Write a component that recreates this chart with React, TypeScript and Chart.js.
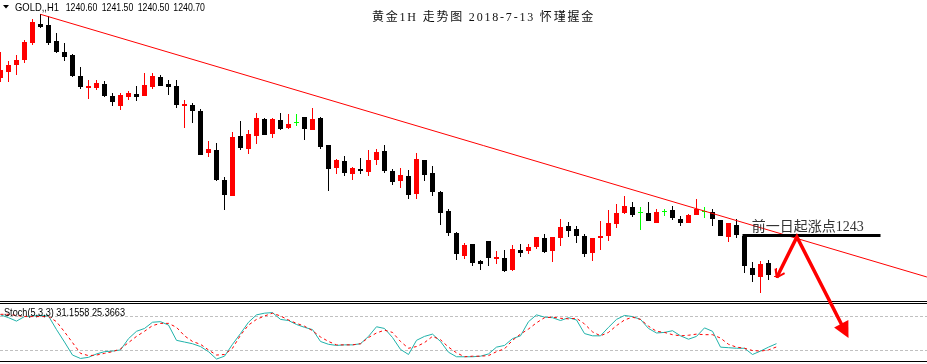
import React, { useEffect, useRef } from 'react';
import { Chart, registerables } from 'chart.js';
Chart.register(...registerables);

// ---- Candles (H1 gold), index 0..97 ----
const opens = [
  1260.5, 1261.1, 1261.8, 1262.3, 1264.0, 1265.9, 1265.8, 1264.2, 1263.1, 1262.8,
  1260.7, 1259.5, 1259.5, 1259.9, 1258.7, 1257.7, 1258.6, 1258.9, 1258.7, 1259.6,
  1260.6, 1259.9, 1259.7, 1257.7, 1257.8, 1257.2, 1253.0, 1253.3, 1250.3, 1248.7,
  1254.7, 1253.4, 1254.7, 1256.4, 1254.9, 1256.3, 1255.5, 1256.0, 1256.6, 1255.3,
  1256.5, 1253.8, 1251.5, 1252.2, 1250.9, 1251.4, 1251.1, 1252.3, 1253.2, 1251.2,
  1250.2, 1250.7, 1248.9, 1252.3, 1251.0, 1249.1, 1247.2, 1245.0, 1242.7, 1243.9,
  1242.2, 1244.2, 1242.4, 1242.5, 1241.3, 1243.3, 1243.2, 1243.6, 1244.5, 1243.2,
  1244.5, 1245.7, 1245.4, 1244.7, 1243.0, 1244.5, 1244.7, 1245.9, 1247.0, 1247.6,
  1247.0, 1247.0, 1246.0, 1247.1, 1247.3, 1246.4, 1246.0, 1246.8, 1247.1, 1247.1,
  1246.3, 1244.6, 1245.8, 1244.7, 1241.5, 1240.6, 1242.0, 1240.6,
];
const highs = [
  1263.1, 1262.2, 1262.8, 1264.3, 1266.4, 1266.9, 1266.7, 1265.0, 1264.0, 1262.9,
  1261.6, 1260.3, 1260.3, 1260.2, 1259.0, 1259.0, 1259.2, 1259.7, 1261.0, 1261.0,
  1260.8, 1260.3, 1260.3, 1258.3, 1258.0, 1257.4, 1254.2, 1254.0, 1250.6, 1255.1,
  1256.2, 1255.3, 1257.0, 1256.5, 1256.5, 1257.0, 1256.9, 1256.9, 1256.6, 1257.5,
  1256.6, 1253.8, 1252.4, 1252.7, 1251.6, 1252.5, 1253.3, 1253.4, 1253.8, 1251.4,
  1251.5, 1251.3, 1253.0, 1252.3, 1251.7, 1249.2, 1247.4, 1245.1, 1244.0, 1243.9,
  1242.3, 1244.2, 1243.2, 1243.3, 1243.8, 1243.9, 1243.9, 1244.6, 1244.9, 1244.6,
  1246.4, 1246.1, 1245.7, 1244.9, 1244.5, 1246.2, 1247.3, 1247.9, 1248.7, 1248.1,
  1247.6, 1248.1, 1247.4, 1247.4, 1247.7, 1246.7, 1246.9, 1248.4, 1247.6, 1247.4,
  1246.3, 1246.0, 1246.4, 1244.9, 1242.1, 1242.2, 1242.3, 1241.5,
];
const lows = [
  1260.1, 1260.1, 1260.8, 1262.0, 1263.8, 1265.5, 1263.8, 1263.0, 1262.2, 1260.6,
  1259.4, 1258.4, 1259.3, 1258.6, 1257.7, 1257.3, 1258.3, 1258.2, 1258.7, 1259.4,
  1259.7, 1258.8, 1257.5, 1255.5, 1256.0, 1252.8, 1252.6, 1250.2, 1247.3, 1248.7,
  1253.3, 1252.9, 1253.9, 1254.8, 1254.5, 1255.3, 1255.4, 1255.7, 1254.3, 1255.3,
  1253.4, 1249.2, 1250.9, 1250.7, 1250.3, 1250.9, 1250.7, 1251.8, 1251.0, 1249.8,
  1249.5, 1248.4, 1248.4, 1250.2, 1248.7, 1245.8, 1244.7, 1242.3, 1242.4, 1241.7,
  1241.3, 1241.7, 1241.9, 1241.1, 1241.2, 1242.6, 1242.9, 1243.4, 1243.0, 1242.1,
  1243.7, 1244.6, 1244.0, 1242.6, 1242.2, 1243.3, 1244.2, 1245.5, 1246.9, 1246.6,
  1245.3, 1246.2, 1246.0, 1246.7, 1246.3, 1245.7, 1246.0, 1246.8, 1246.5, 1245.7,
  1244.7, 1244.1, 1244.5, 1241.0, 1240.1, 1239.0, 1240.3, 1240.5,
];
const closes = [
  1261.3, 1261.8, 1262.3, 1264.1, 1266.1, 1265.6, 1264.0, 1263.1, 1262.6, 1260.7,
  1259.6, 1259.7, 1260.0, 1258.7, 1258.1, 1258.8, 1259.0, 1258.6, 1259.8, 1260.7,
  1259.7, 1259.6, 1257.8, 1257.9, 1257.2, 1252.8, 1253.4, 1250.3, 1248.8, 1254.6,
  1253.5, 1254.9, 1256.5, 1254.8, 1256.4, 1255.4, 1255.9, 1256.0, 1255.4, 1256.4,
  1253.6, 1251.4, 1252.3, 1251.0, 1251.5, 1251.2, 1252.3, 1253.1, 1251.2, 1250.1,
  1250.8, 1248.8, 1252.4, 1250.8, 1249.1, 1247.0, 1245.0, 1242.9, 1243.8, 1242.0,
  1241.9, 1242.5, 1242.6, 1241.2, 1243.4, 1243.0, 1243.6, 1244.6, 1243.1, 1244.6,
  1245.6, 1245.2, 1244.7, 1242.9, 1244.5, 1244.7, 1246.0, 1247.0, 1247.7, 1246.8,
  1247.0, 1246.2, 1247.1, 1247.1, 1246.5, 1246.0, 1246.8, 1247.4, 1247.1, 1246.4,
  1244.7, 1246.0, 1244.8, 1241.7, 1240.8, 1241.9, 1240.8, 1240.7,
];

// ---- Stochastic (5,3,3) ----
const stochMain = [
  82, 77, 71, 79, 80, 81, 80, 56, 34, 11,
  5, 7, 13, 17, 18, 20, 40, 53, 58, 69,
  70, 64, 37, 34, 31, 26, 17, 4, 9, 30,
  49, 69, 82, 85, 86, 74, 72, 65, 60, 56,
  35, 30, 28, 29, 29, 31, 44, 61, 58, 42,
  21, 12, 37, 44, 48, 35, 16, 8, 8, 8,
  9, 13, 25, 28, 40, 45, 70, 82, 78, 77,
  72, 77, 73, 49, 45, 45, 60, 74, 81, 79,
  74, 58, 50, 51, 54, 45, 39, 44, 59, 53,
  25, 24, 23, 23, 12, 18, 25, 31.16,
];
const stochSignal = [
  83, 83, 81, 79, 79, 79, 79, 70, 52, 33,
  14, 10, 11, 14, 17, 22, 33, 44, 53, 63,
  67, 67, 60, 45, 35, 30, 20, 11, 12, 23,
  46, 64, 74, 80, 85, 80, 73, 67, 62, 54,
  43, 35, 29, 29, 29, 31, 42, 50, 55, 51,
  35, 23, 26, 33, 44, 38, 25, 15, 8, 9,
  9, 10, 17, 22, 37, 48, 57, 68, 77, 78,
  76, 75, 76, 66, 52, 45, 51, 63, 73, 78,
  74, 62, 53, 51, 47, 45, 46, 48, 47, 47,
  41, 30, 25, 23, 19, 18, 20, 25.37,
];
const stochLevels = [20, 80];

// ---- Drawings ----
const trendX = [5, 115.8];
const trendY = [1266.87, 1240.6];
const prevLevelX = [92.75, 110];
const prevLevel = 1244.75;
const arrowX = [97.03, 99.55, 106.0];
const arrowY = [1240.55, 1244.6, 1234.5];

// ---- Texts ----
const headerSymbol = 'GOLD,,H1';
const headerValues = ['1240.60', '1241.50', '1240.50', '1240.70'];
const titleText = '黄金1H 走势图 2018-7-13 怀瑾握金';
const levelLabel = '前一日起涨点1243';
const stochLabel = 'Stoch(5,3,3) 31.1558 25.3663';

const RED = '#ff0000';
const BLACK = '#000000';
const GREEN = '#00ff00';

function candleColor(i: number) {
  if (closes[i] > opens[i]) return RED;
  if (closes[i] < opens[i]) return BLACK;
  return GREEN;
}

const decorPlugin = {
  id: 'decor',
  beforeDatasetsDraw(chart: any) {
    const ctx = chart.ctx;
    const y2 = chart.scales.y2;
    const W = chart.width;
    ctx.save();
    ctx.strokeStyle = '#c0c0c0';
    ctx.lineWidth = 1;
    ctx.setLineDash([3, 2]);
    stochLevels.forEach((v) => {
      const py = Math.round(y2.getPixelForValue(v)) + 0.5;
      ctx.beginPath();
      ctx.moveTo(0, py);
      ctx.lineTo(W, py);
      ctx.stroke();
    });
    ctx.setLineDash([]);
    const pTop = Math.round(y2.getPixelForValue(100));
    const pBot = Math.floor(y2.getPixelForValue(0));
    ctx.fillStyle = '#000';
    ctx.fillRect(0, pTop - 4, W, 1);
    ctx.fillRect(0, pTop - 2, W, 1);
    ctx.fillRect(0, pBot, W, 1);
    ctx.restore();
  },
  afterDatasetsDraw(chart: any) {
    const ctx = chart.ctx;
    const xs = chart.scales.x;
    const ys = chart.scales.y;
    const pts = arrowX.map((v, i) => ({ x: xs.getPixelForValue(v), y: ys.getPixelForValue(arrowY[i]) }));
    ctx.save();
    ctx.strokeStyle = RED;
    ctx.fillStyle = RED;
    const a = pts[1], b = pts[2];
    let dx = b.x - a.x, dy = b.y - a.y;
    const len = Math.hypot(dx, dy);
    dx /= len; dy /= len;
    const headL = 16, headW = 8;
    const base = { x: b.x - dx * headL, y: b.y - dy * headL };
    ctx.lineWidth = 3.5;
    ctx.lineJoin = 'miter';
    ctx.beginPath();
    ctx.moveTo(pts[0].x, pts[0].y);
    ctx.lineTo(a.x, a.y);
    ctx.lineTo(base.x + dx * 2, base.y + dy * 2);
    ctx.stroke();
    ctx.beginPath();
    ctx.moveTo(b.x, b.y);
    ctx.lineTo(base.x - dy * headW, base.y + dx * headW);
    ctx.lineTo(base.x + dy * headW, base.y - dx * headW);
    ctx.closePath();
    ctx.fill();
    let rx = a.x - pts[0].x, ry = a.y - pts[0].y;
    const rl = Math.hypot(rx, ry);
    rx /= rl; ry /= rl;
    ctx.lineWidth = 2;
    [-0.6, 0.6].forEach((ang) => {
      const c = Math.cos(ang), s = Math.sin(ang);
      const bx = rx * c - ry * s, by = rx * s + ry * c;
      ctx.beginPath();
      ctx.moveTo(pts[0].x, pts[0].y);
      ctx.lineTo(pts[0].x + bx * 9, pts[0].y + by * 9);
      ctx.stroke();
    });
    ctx.restore();
  },
  afterDraw(chart: any) {
    const ctx = chart.ctx;
    ctx.save();
    ctx.textBaseline = 'alphabetic';
    ctx.textAlign = 'left';
    ctx.fillStyle = '#000';
    ctx.beginPath();
    ctx.moveTo(3, 5);
    ctx.lineTo(9, 5);
    ctx.lineTo(6, 8.5);
    ctx.closePath();
    ctx.fill();
    ctx.font = '11px "Liberation Sans", Arial, sans-serif';
    ctx.fillText(headerSymbol, 15, 10.5, 44);
    const hx = [65.7, 101.7, 137.7, 173.3];
    headerValues.forEach((t, i) => ctx.fillText(t, hx[i], 10.5, 31.6));
    ctx.fillStyle = '#111';
    ctx.font = '12px "Liberation Serif", "Noto Sans CJK SC", serif';
    (ctx as any).letterSpacing = '1.8px';
    ctx.textAlign = 'center';
    ctx.fillText(titleText, 483.5, 21);
    (ctx as any).letterSpacing = '0px';
    ctx.textAlign = 'left';
    ctx.fillStyle = '#333';
    ctx.font = '14px "Liberation Serif", "Noto Sans CJK SC", serif';
    ctx.fillText(levelLabel, 751.7, 230.5);
    ctx.fillStyle = '#000';
    ctx.font = '10px "Liberation Sans", Arial, sans-serif';
    ctx.fillText(stochLabel, 4, 316, 121);
    ctx.restore();
  },
};

export default function App() {
  const ref = useRef<HTMLCanvasElement | null>(null);
  useEffect(() => {
    document.body.style.margin = '0';
    document.body.style.background = '#fff';
    const canvas = ref.current;
    if (!canvas) return;
    const idx = opens.map((_, i) => i);
    const colors = idx.map(candleColor);
    const chart = new Chart(canvas, {
      type: 'bar',
      data: {
        datasets: [
          {
            type: 'line',
            data: idx.map((i) => ({ x: i, y: stochSignal[i] })),
            yAxisID: 'y2',
            borderColor: RED,
            borderWidth: 1,
            borderDash: [3, 3],
            pointRadius: 0,
            tension: 0,
            order: 0,
          } as any,
          {
            type: 'line',
            data: idx.map((i) => ({ x: i, y: stochMain[i] })),
            yAxisID: 'y2',
            borderColor: '#20b2aa',
            borderWidth: 1,
            pointRadius: 0,
            tension: 0,
            order: 1,
          } as any,
          {
            type: 'line',
            data: prevLevelX.map((x) => ({ x, y: prevLevel })),
            yAxisID: 'y',
            borderColor: BLACK,
            borderWidth: 3,
            borderCapStyle: 'butt',
            pointRadius: 0,
            order: 2,
          } as any,
          {
            type: 'line',
            data: trendX.map((x, i) => ({ x, y: trendY[i] })),
            yAxisID: 'y',
            borderColor: RED,
            borderWidth: 1,
            pointRadius: 0,
            order: 3,
          } as any,
          {
            type: 'bar',
            data: idx.map((i) => ({ x: i, y: [opens[i], closes[i]] })),
            yAxisID: 'y',
            backgroundColor: colors,
            borderWidth: 0,
            barThickness: 5,
            minBarLength: 1,
            inflateAmount: 0,
            grouped: false,
            order: 4,
          } as any,
          {
            type: 'bar',
            data: idx.map((i) => ({ x: i, y: [lows[i], highs[i]] })),
            yAxisID: 'y',
            backgroundColor: colors,
            borderWidth: 0,
            barThickness: 1,
            minBarLength: 1,
            inflateAmount: 0,
            grouped: false,
            order: 5,
          } as any,
        ],
      },
      options: {
        animation: false,
        responsive: false,
        devicePixelRatio: 1,
        layout: { padding: 0 },
        plugins: { legend: { display: false }, tooltip: { enabled: false }, title: { display: false } },
        scales: {
          x: { type: 'linear', min: -0.0625, max: 115.8125, offset: false, display: false },
          y: { type: 'linear', min: 1231.9, max: 1268.3, display: false },
          y2: { type: 'linear', min: -4.8, max: 638.3, display: false },
        },
      } as any,
      plugins: [decorPlugin],
    });
    return () => chart.destroy();
  }, []);
  return (
    <div style={{ width: 927, height: 364, overflow: 'hidden', background: '#fff' }}>
      <canvas ref={ref} width={927} height={364} style={{ display: 'block' }} />
    </div>
  );
}
